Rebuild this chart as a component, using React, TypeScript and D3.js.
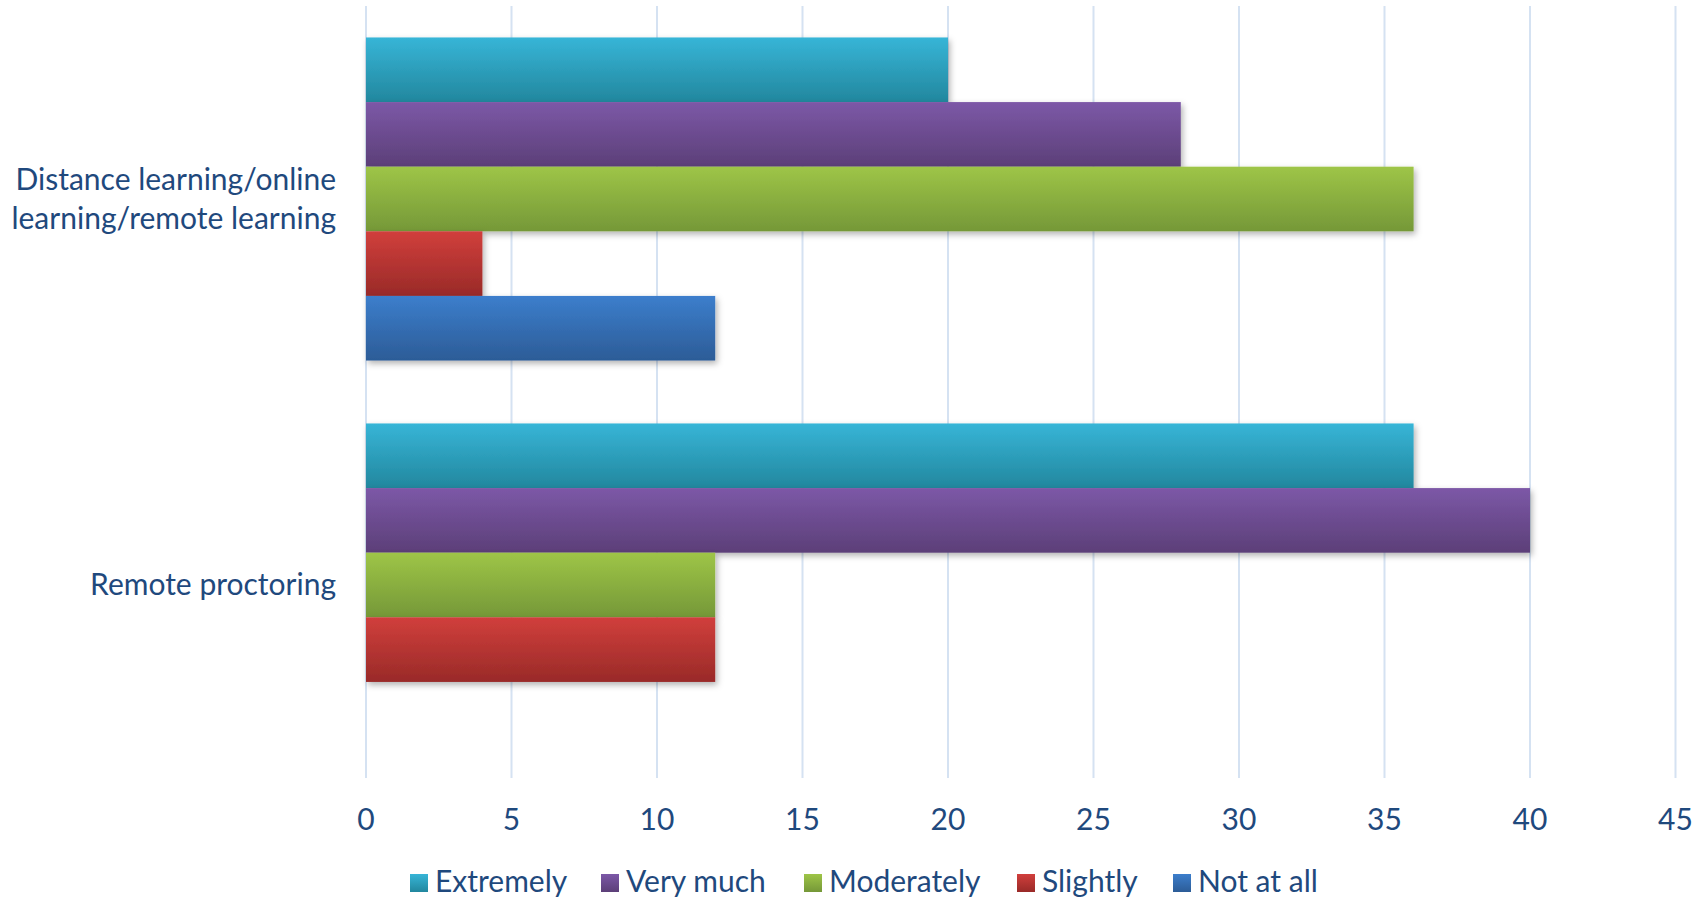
import React from "react";
import * as d3 from "d3";

const categories = ["Distance learning/online learning/remote learning", "Remote proctoring"];
const categoryLines = [["Distance learning/online", "learning/remote learning"], ["Remote proctoring"]];
const seriesNames = ["Extremely", "Very much", "Moderately", "Slightly", "Not at all"];
const extremely = [20, 36];
const veryMuch = [28, 40];
const moderately = [36, 12];
const slightly = [4, 12];
const notAtAll = [12, 0];
const seriesValues = [extremely, veryMuch, moderately, slightly, notAtAll];
const xTicks = [0, 5, 10, 15, 20, 25, 30, 35, 40, 45];

const gradTop = ["#37B5D7", "#7C58A7", "#9EC547", "#D13F3C", "#3C7ECC"];
const gradBottom = ["#22879E", "#5C3F78", "#759838", "#992A28", "#2C5C97"];

const W = 1705;
const H = 900;
const M = { left: 366, right: 30, top: 6, bottom: 122 };
const FONT = "Lato, 'Open Sans', sans-serif";
const TEXT = "#1F497D";

export default function App() {
  const x = d3.scaleLinear().domain([0, 45]).range([M.left, M.left + 8 * 145.5 * 45 / 40]);
  const y0 = d3.scaleBand<string>().domain(categories).range([M.top, H - M.bottom]).paddingInner(0.163).paddingOuter(0.0815);
  const y1 = d3.scaleBand<string>().domain(seriesNames).range([0, y0.bandwidth()]);
  const plotBottom = H - M.bottom;

  return (
    <svg width={W} height={H} style={{ position: "absolute", left: 0, top: 0, background: "#fff" }} fontFamily={FONT}>
      <defs>
        {seriesNames.map((s, i) => (
          <linearGradient key={s} id={`g${i}`} x1="0" y1="0" x2="0" y2="1">
            <stop offset="0%" stopColor={gradTop[i]} />
            <stop offset="100%" stopColor={gradBottom[i]} />
          </linearGradient>
        ))}
        <filter id="shadow" x="-5%" y="-20%" width="115%" height="160%">
          <feDropShadow dx="2" dy="3" stdDeviation="3" floodColor="#000" floodOpacity="0.3" />
        </filter>
      </defs>
      {xTicks.map((t) => (
        <line key={t} x1={x(t)} x2={x(t)} y1={M.top} y2={plotBottom} stroke="#D5E2F2" strokeWidth={2} />
      ))}
      {categories.map((c, ci) => (
        <g key={c}>
          {seriesNames.map((s, si) => {
            const v = seriesValues[si][ci];
            if (!v) return null;
            return (
              <rect
                key={s}
                x={x(0)}
                y={(y0(c) as number) + (y1(s) as number)}
                width={x(v) - x(0)}
                height={y1.bandwidth()}
                fill={`url(#g${si})`}
                filter="url(#shadow)"
              />
            );
          })}
        </g>
      ))}
      {categories.map((c, ci) => {
        const cy = (y0(c) as number) + y0.bandwidth() / 2;
        const lines = categoryLines[ci];
        const lh = 39;
        const start = cy + 10 - ((lines.length - 1) * lh) / 2;
        return (
          <text key={c} textAnchor="end" fontSize={30} fill={TEXT}>
            {lines.map((l, li) => (
              <tspan key={li} x={336} y={start + li * lh}>{l}</tspan>
            ))}
          </text>
        );
      })}
      {xTicks.map((t) => (
        <text key={t} x={x(t)} y={830} textAnchor="middle" fontSize={30} fill={TEXT}>{t}</text>
      ))}
      {(() => {
        const legendX = [410, 601, 804, 1017, 1173];
        return seriesNames.map((s, i) => (
          <g key={s}>
            <rect x={legendX[i]} y={874} width={18} height={18} fill={`url(#g${i})`} />
            <text x={legendX[i] + 25} y={892} fontSize={30} fill={TEXT}>{s}</text>
          </g>
        ));
      })()}
    </svg>
  );
}
